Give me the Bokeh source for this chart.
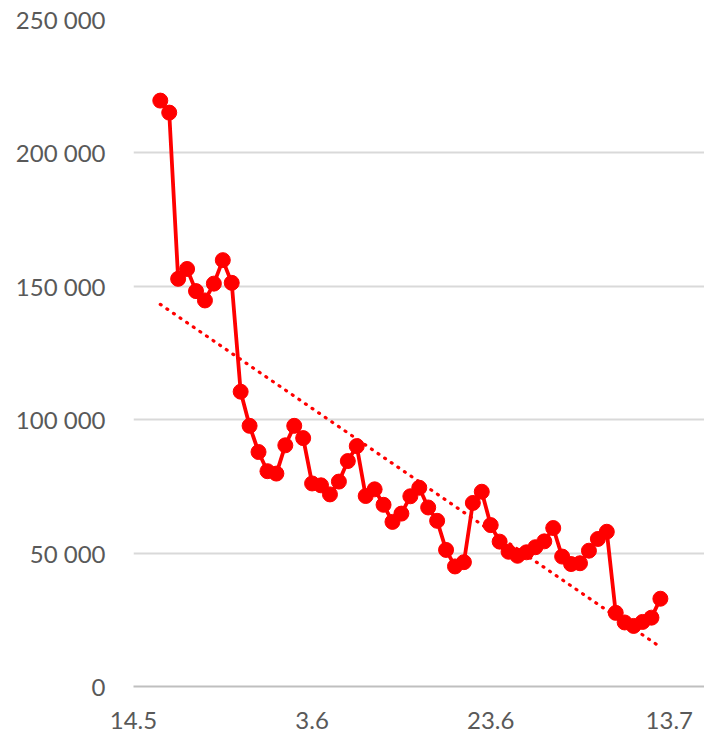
import numpy as np
import pandas as pd
from bokeh.plotting import figure
from bokeh.models import FixedTicker, Range1d
from bokeh.embed import file_html
from bokeh.resources import INLINE

# ---- data ----
axis_start = "2020-05-14"
dates = pd.date_range("2020-05-17", periods=57, freq="D")
values = [
    219600, 215100, 152800, 156500, 148200, 144700, 151000, 159800, 151300, 110500,
    97700, 87900, 80700, 79800, 90400, 97700, 93100, 76100, 75400, 72000,
    76800, 84500, 90100, 71400, 73900, 68100, 61700, 64800, 71300, 74500,
    67100, 62100, 51200, 45000, 46600, 68800, 73000, 60500, 54300, 50500,
    49000, 50300, 52200, 54400, 59400, 48700, 45900, 46200, 50900, 55300,
    58000, 27600, 24000, 22700, 24200, 25800, 32900,
]
tick_dates = ["2020-05-14", "2020-06-03", "2020-06-23", "2020-07-13"]
tick_labels = ["14.5", "3.6", "23.6", "13.7"]
y_ticks = [0, 50000, 100000, 150000, 200000, 250000]

# ---- derived ----
t0 = pd.Timestamp(axis_start)
x = np.array([(d - t0).days for d in dates], dtype=float)
y = np.array(values, dtype=float)
tick_x = [(pd.Timestamp(d) - t0).days for d in tick_dates]

slope, intercept = np.polyfit(x, y, 1)
tx = np.array([x[0], x[-1]])
ty = slope * tx + intercept

RED = "#ff0000"
FONT = "Lato"
LABEL = "#595959"

p = figure(width=704, height=733, output_backend="svg", toolbar_location=None,
           min_border_left=133, min_border_right=0, min_border_top=19,
           min_border_bottom=47)
p.x_range = Range1d(0, 63.94)
p.y_range = Range1d(0, 250000)
p.outline_line_color = None
p.background_fill_color = "white"
p.border_fill_color = "white"

p.xgrid.grid_line_color = None
p.ygrid.grid_line_color = "#d9d9d9"
p.ygrid.grid_line_width = 2
p.ygrid.ticker = FixedTicker(ticks=y_ticks)

p.yaxis.ticker = FixedTicker(ticks=y_ticks)
p.yaxis.major_label_overrides = {v: f"{v:,}".replace(",", " ") for v in y_ticks}
p.yaxis.axis_line_color = None
p.yaxis.major_tick_line_color = None
p.yaxis.minor_tick_line_color = None
p.yaxis.major_label_standoff = 22

p.xaxis.ticker = FixedTicker(ticks=tick_x)
p.xaxis.major_label_overrides = {tx_: lab for tx_, lab in zip(tick_x, tick_labels)}
p.xaxis.axis_line_color = "#bfbfbf"
p.xaxis.axis_line_width = 2
p.xaxis.major_tick_line_color = None
p.xaxis.minor_tick_line_color = None
p.xaxis.major_label_standoff = 19

for ax in (p.xaxis, p.yaxis):
    ax.major_label_text_font = FONT
    ax.major_label_text_font_size = "24px"
    ax.major_label_text_color = LABEL

p.line(tx, ty, line_color=RED, line_width=3.2, line_dash="1 7", line_cap="round")
p.line(x, y, line_color=RED, line_width=3.8)
p.scatter(x, y, size=15, fill_color=RED, line_color=RED)

open("out.html", "w").write(file_html(p, INLINE))
